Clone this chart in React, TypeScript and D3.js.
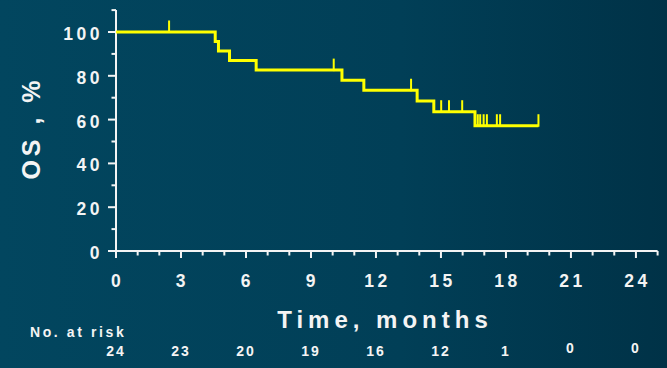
import React from "react";
import * as d3 from "d3";

// Kaplan–Meier overall survival
const eventMonths = [4.58, 4.73, 5.24, 6.47, 10.43, 11.44, 13.9, 14.67, 16.57];
const survivalAfter = [95.7, 91.3, 87.0, 82.6, 78.0, 73.4, 68.5, 63.6, 57.2];
const censorMonths = [2.45, 10.05, 13.62, 15.01, 15.37, 15.98, 16.7, 16.81, 16.97, 17.12, 17.58, 17.73, 19.5];
const followUpEnd = 19.5;

const xTickLabels = [0, 3, 6, 9, 12, 15, 18, 21, 24];
const yTickLabels = [0, 20, 40, 60, 80, 100];
const atRiskMonths = [0, 3, 6, 9, 12, 15, 18, 21, 24];
const atRiskCounts = [24, 23, 20, 19, 16, 12, 1, 0, 0];

const W = 667;
const H = 368;
const FONT = "'Liberation Sans', Arial, Helvetica, sans-serif";

export default function App() {
  const x = d3.scaleLinear().domain([0, 25]).range([116, 657.6]);
  const y = d3.scaleLinear().domain([0, 100]).range([251, 32]);

  const survivalAt = (t: number) => {
    let s = 100;
    eventMonths.forEach((e, i) => {
      if (e <= t) s = survivalAfter[i];
    });
    return s;
  };

  const pts: [number, number][] = [[0, 100]];
  eventMonths.forEach((e, i) => pts.push([e, survivalAfter[i]]));
  pts.push([followUpEnd, survivalAfter[survivalAfter.length - 1]]);

  const line = d3
    .line<[number, number]>()
    .x((d) => x(d[0]))
    .y((d) => y(d[1]))
    .curve(d3.curveStepAfter);

  const xMinor = d3.range(0, 26, 1);
  const yMinor = d3.range(0, 111, 10);

  return (
    <svg width={W} height={H} style={{ position: "absolute", left: 0, top: 0 }}>
      <defs>
        <linearGradient id="bg" x1="0" y1="0" x2="1" y2="0">
          <stop offset="0" stopColor="#02465f" />
          <stop offset="0.6" stopColor="#013f57" />
          <stop offset="1" stopColor="#003247" />
        </linearGradient>
      </defs>
      <rect x={0} y={0} width={W} height={H} fill="url(#bg)" />

      {/* axes */}
      <line x1={x(0)} x2={x(0)} y1={y(110)} y2={y(0)} stroke="#f4f4f4" strokeWidth={2} />
      <line x1={x(0)} x2={x(25)} y1={y(0)} y2={y(0)} stroke="#f4f4f4" strokeWidth={2} />
      {yMinor.map((v) => (
        <line
          key={"yt" + v}
          x1={x(0) - (v % 20 === 0 ? 8 : 4.5)}
          x2={x(0)}
          y1={y(v)}
          y2={y(v)}
          stroke="#f4f4f4"
          strokeWidth={2}
        />
      ))}
      {xMinor.map((v) => (
        <line
          key={"xt" + v}
          x1={x(v)}
          x2={x(v)}
          y1={y(0)}
          y2={y(0) + (v % 3 === 0 ? 7 : 4.5)}
          stroke="#f4f4f4"
          strokeWidth={2}
        />
      ))}

      {yTickLabels.map((v) => (
        <text
          key={"yl" + v}
          x={x(0) - 13}
          y={y(v) + 8}
          textAnchor="end"
          fill="#f4f4f4"
          fontFamily={FONT}
          fontWeight="bold"
          fontSize={17.5}
          letterSpacing={3.5}
        >
          {v}
        </text>
      ))}
      {xTickLabels.map((v) => (
        <text
          key={"xl" + v}
          x={x(v) + 1.5}
          y={287}
          textAnchor="middle"
          fill="#f4f4f4"
          fontFamily={FONT}
          fontWeight="bold"
          fontSize={17.5}
          letterSpacing={3.5}
        >
          {v}
        </text>
      ))}

      <text
        transform={`translate(40, 128) rotate(-90)`}
        textAnchor="middle"
        fill="#f4f4f4"
        fontFamily={FONT}
        fontWeight="bold"
        fontSize={25}
        letterSpacing={4}
      >
        OS , %
      </text>
      <text
        x={385}
        y={328}
        textAnchor="middle"
        fill="#f4f4f4"
        fontFamily={FONT}
        fontWeight="bold"
        fontSize={24}
        letterSpacing={5}
      >
        Time, months
      </text>

      <text
        x={30}
        y={337}
        fill="#f4f4f4"
        fontFamily={FONT}
        fontWeight="bold"
        fontSize={14}
        letterSpacing={2.6}
      >
        No. at risk
      </text>
      {atRiskCounts.map((c, i) => (
        <text
          key={"ar" + i}
          x={x(atRiskMonths[i])}
          y={c === 0 ? 353 : 356}
          textAnchor="middle"
          fill="#f4f4f4"
          fontFamily={FONT}
          fontWeight="bold"
          fontSize={14}
          letterSpacing={2}
        >
          {c}
        </text>
      ))}

      {/* survival curve */}
      <path d={line(pts) ?? ""} fill="none" stroke="#ffff00" strokeWidth={3} />
      {censorMonths.map((t, i) => (
        <line
          key={"c" + i}
          x1={x(t)}
          x2={x(t)}
          y1={y(survivalAt(t)) + 1}
          y2={y(survivalAt(t)) - 11.5}
          stroke="#ffff00"
          strokeWidth={2}
        />
      ))}
    </svg>
  );
}
